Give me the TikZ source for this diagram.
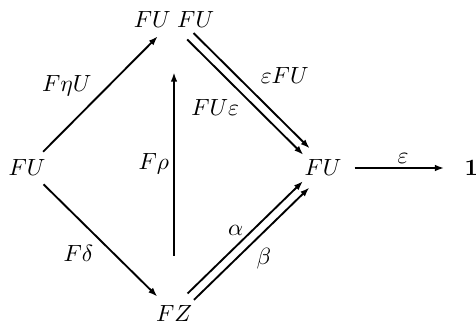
\documentclass[tikz,border=0pt]{standalone}
\usepackage{tikz}
\usetikzlibrary{arrows.meta}
\tikzset{
  arr/.style={
    -{Latex[length=4pt,width=2.8pt]},
    line width = 0.8pt
  },
  lab/.style={
    inner sep=1pt
  },
}
\begin{document}
\begin{tikzpicture}
    \def\dd{1.36pt}
    \useasboundingbox (0,0) rectangle (7.14,4.86);
    \node (FUl) at (0.405,2.34) {$FU$};
    \node (FUFU) at (2.61,4.56) {$FU\;FU$};
    \node (FZ) at (2.61,0.165) {$FZ$};
    \node (FUr) at (4.845,2.34) {$FU$};
    \node (one) at (7.07,2.34) {$\mathbf{1}$};
    % left triangle
    \draw[arr] (FUl) -- node[lab, pos=0.45, anchor=south east] {$F\eta U$} (FUFU);
    \draw[arr] (FUl) -- node[lab, inner sep=2.25pt, pos=0.49, anchor=north east] {$F\delta$} (FZ);
    \draw[arr, shorten <=0.615cm, shorten >=0.54cm] (FZ.north) -- node[lab, inner sep=1.7pt, pos=0.51, anchor=east] {$F\rho$} (FUFU.south);
    % parallel pairs
    \draw[arr, transform canvas={xshift=\dd, yshift=\dd}] (FUFU) -- node[lab, inner sep=3pt, pos=0.51, anchor=south west] {$\varepsilon FU$} (FUr);
    \draw[arr, transform canvas={xshift=-\dd, yshift=-\dd}] (FUFU) -- node[lab, inner sep=1.5pt, pos=0.485, anchor=north east] {$FU\varepsilon$} (FUr);
    \draw[arr, transform canvas={xshift=-\dd, yshift=\dd}] (FZ) -- node[lab, inner sep=0.5pt, pos=0.5, anchor=south east] {$\alpha$} (FUr);
    \draw[arr, transform canvas={xshift=\dd, yshift=-\dd}] (FZ) -- node[lab, inner sep=1.75pt, pos=0.5, anchor=north west] {$\beta$} (FUr);
    \draw[arr, shorten <=0.075cm, shorten >=0.18cm] (FUr) -- node[lab, inner sep=1.5pt, anchor=south] {$\varepsilon$} (one);
\end{tikzpicture}
\end{document}
